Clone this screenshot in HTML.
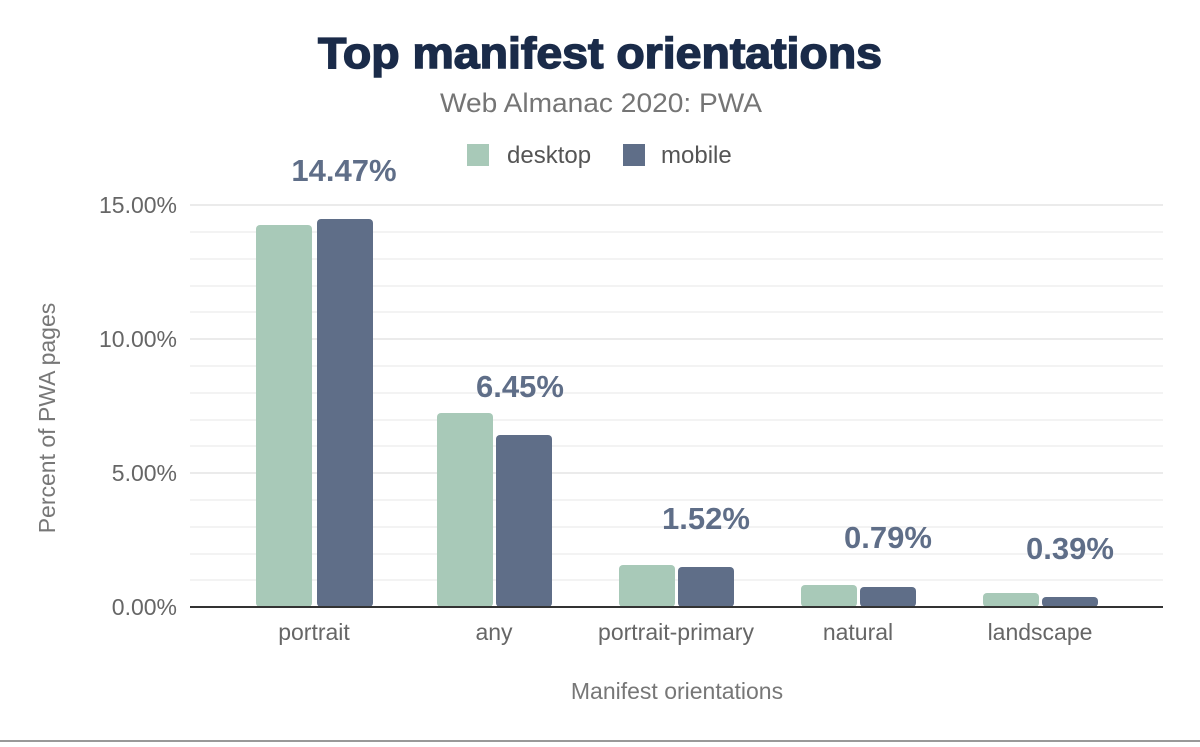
<!DOCTYPE html><html><head><style>body{margin:0;background:#fff;width:1200px;height:742px;overflow:hidden}</style></head><body>
<svg width="1200" height="742" xmlns="http://www.w3.org/2000/svg" font-family="Liberation Sans, sans-serif">
<text x="600" y="68" text-anchor="middle" font-size="44" font-weight="900" fill="#1a2b49" stroke="#1a2b49" stroke-width="1.5" textLength="564" lengthAdjust="spacingAndGlyphs">Top manifest orientations</text>
<text x="601" y="112" text-anchor="middle" font-size="27" fill="#757575" textLength="322" lengthAdjust="spacingAndGlyphs">Web Almanac 2020: PWA</text>
<rect x="467" y="144" width="22" height="22" fill="#a8c9b8"/><text x="507" y="163" font-size="24" fill="#555">desktop</text>
<rect x="623" y="144" width="22" height="22" fill="#5f6e88"/><text x="661" y="163" font-size="24" fill="#555">mobile</text>
<g stroke="#f3f3f3" stroke-width="2">
<line x1="190" x2="1163" y1="232" y2="232"/><line x1="190" x2="1163" y1="259" y2="259"/><line x1="190" x2="1163" y1="286" y2="286"/><line x1="190" x2="1163" y1="312" y2="312"/>
<line x1="190" x2="1163" y1="366" y2="366"/><line x1="190" x2="1163" y1="393" y2="393"/><line x1="190" x2="1163" y1="420" y2="420"/><line x1="190" x2="1163" y1="446" y2="446"/>
<line x1="190" x2="1163" y1="500" y2="500"/><line x1="190" x2="1163" y1="527" y2="527"/><line x1="190" x2="1163" y1="554" y2="554"/><line x1="190" x2="1163" y1="580" y2="580"/>
</g>
<g stroke="#ebebeb" stroke-width="2"><line x1="190" x2="1163" y1="205" y2="205"/><line x1="190" x2="1163" y1="339" y2="339"/><line x1="190" x2="1163" y1="473" y2="473"/></g>
<g font-size="23" fill="#666" text-anchor="end"><text x="177" y="213">15.00%</text><text x="177" y="347">10.00%</text><text x="177" y="481">5.00%</text><text x="177" y="615">0.00%</text></g>
<text transform="translate(55,418) rotate(-90)" text-anchor="middle" font-size="23" fill="#777">Percent of PWA pages</text>
<g fill="#a8c9b8">
<rect x="256" y="225" width="56" height="382" rx="4"/><rect x="437" y="413" width="56" height="194" rx="4"/><rect x="619" y="565" width="56" height="42" rx="4"/><rect x="801" y="585" width="56" height="22" rx="4"/><rect x="983" y="593" width="56" height="14" rx="4"/>
</g>
<g fill="#5f6e88">
<rect x="317" y="219" width="56" height="388" rx="4"/><rect x="496" y="435" width="56" height="172" rx="4"/><rect x="678" y="567" width="56" height="40" rx="4"/><rect x="860" y="587" width="56" height="20" rx="4"/><rect x="1042" y="597" width="56" height="10" rx="4"/>
</g>
<line x1="190" x2="1163" y1="607" y2="607" stroke="#333" stroke-width="2"/>
<g font-size="31" font-weight="bold" fill="#5f6e88" text-anchor="middle">
<text x="344" y="181">14.47%</text><text x="520" y="397">6.45%</text><text x="706" y="529">1.52%</text><text x="888" y="548">0.79%</text><text x="1070" y="559">0.39%</text>
</g>
<g font-size="23" fill="#666" text-anchor="middle">
<text x="314" y="640">portrait</text><text x="494" y="640">any</text><text x="676" y="640">portrait-primary</text><text x="858" y="640">natural</text><text x="1040" y="640">landscape</text>
</g>
<text x="677" y="699" text-anchor="middle" font-size="23" fill="#777">Manifest orientations</text>
<line x1="0" x2="1200" y1="741" y2="741" stroke="#999" stroke-width="2"/>
</svg></body></html>
